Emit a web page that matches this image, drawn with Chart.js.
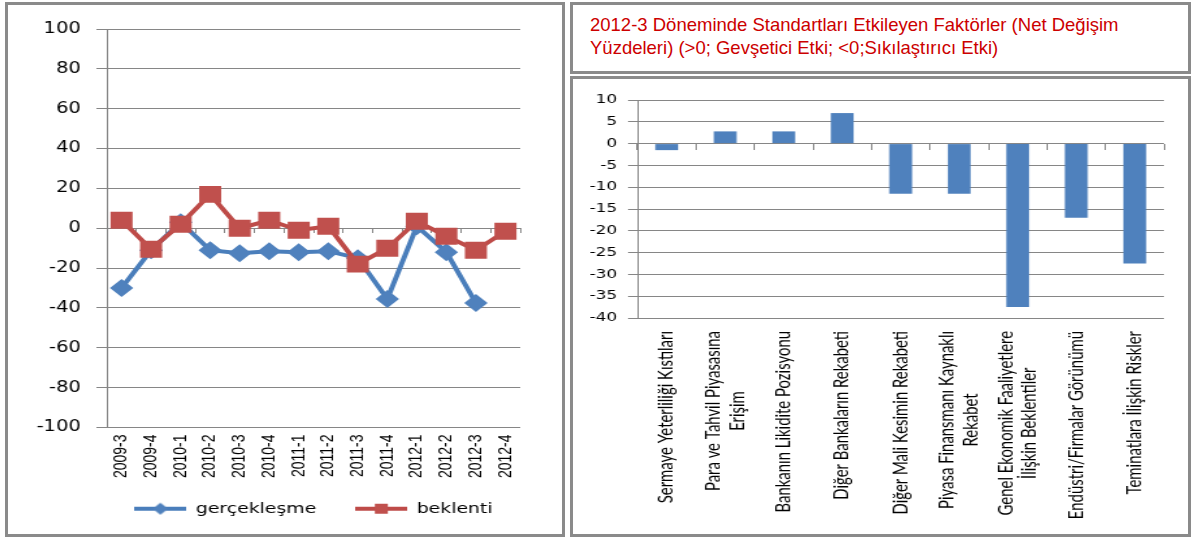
<!DOCTYPE html>
<html>
<head>
<meta charset="utf-8">
<script src="https://cdn.jsdelivr.net/npm/chart.js"></script>
<style>
  body { margin: 0; background: #fff; width: 1196px; height: 538px; overflow: hidden; position: relative; }
  .box { position: absolute; border: 3px solid #8a8a8a; box-sizing: border-box; }
  #leftBox { left: 5px; top: 2px; width: 560px; height: 535px; }
  #titleBox { left: 570px; top: 2px; width: 621px; height: 72px; }
  #rightBox { left: 570px; top: 76px; width: 621px; height: 461px; }
  .wrap { position: absolute; transform-origin: 0 0; }
  /* the source picture is stretched sideways, so the charts are too */
  #leftWrap { left: 8px; top: 5px; width: 426px; height: 529px; transform: scaleX(1.3); }
  #rightWrap { left: 574px; top: 79px; width: 455px; height: 455px; transform: scaleX(1.35); }
  #title { position: absolute; left: 590px; top: 13px; font-family: "Liberation Sans", sans-serif;
           font-size: 18.5px; line-height: 23px; color: #cc0000; }
</style>
</head>
<body>
<div class="box" id="leftBox"></div>
<div class="box" id="titleBox"></div>
<div class="box" id="rightBox"></div>
<div id="title">2012-3 Döneminde Standartları Etkileyen Faktörler (Net Değişim<br>Yüzdeleri) (&gt;0; Gevşetici Etki; &lt;0;Sıkılaştırıcı Etki)</div>
<div class="wrap" id="leftWrap"><canvas id="lineChart"></canvas></div>
<div class="wrap" id="rightWrap"><canvas id="barChart"></canvas></div>

<script>
// Line chart data
const periods = ["2009-3", "2009-4", "2010-1", "2010-2", "2010-3", "2010-4", "2011-1",
                 "2011-2", "2011-3", "2011-4", "2012-1", "2012-2", "2012-3", "2012-4"];
const gerceklesme = [-30, -11, 3, -11, -12.5, -11.5, -12, -11.5, -15, -35.5, 1, -12, -37.5, null];
const beklenti = [4, -10.5, 2, 17, 0, 4, -1, 1, -18, -10, 3.5, -4, -11, -1.5];

// Bar chart data
const factors = [
  "Sermaye Yeterliliği Kıstıları",
  ["Para ve Tahvil Piyasasına", "Erişim"],
  "Bankanın Likidite Pozisyonu",
  "Diğer Bankaların Rekabeti",
  "Diğer Mali Kesimin Rekabeti",
  ["Piyasa Finansmanı Kaynaklı", "Rekabet"],
  ["Genel Ekonomik Faaliyetlere", "İlişkin Beklentiler"],
  "Endüstri/Firmalar Görünümü",
  "Teminatlara İlişkin Riskler"
];
const netChange = [-1.5, 2.8, 2.8, 7, -11.5, -11.5, -37.5, -17, -27.5];

const gridGray = "#868686";
const blueLine = "#4a7ebb", blueMark = "#4f81bd";
const redLine = "#be4b48", redMark = "#c0504d";

Chart.defaults.font.family = "DejaVu Sans";
Chart.defaults.color = "#000";
Chart.defaults.animation = false;

// legend icons: line with marker
function legendIcon(color, markColor, shape) {
  const c = document.createElement("canvas");
  c.width = 40; c.height = 14;
  const g = c.getContext("2d");
  g.strokeStyle = color; g.lineWidth = 4;
  g.beginPath(); g.moveTo(0, 7); g.lineTo(40, 7); g.stroke();
  g.fillStyle = markColor;
  if (shape === "rect") {
    g.fillRect(15, 2, 10, 10);
  } else {
    g.beginPath(); g.moveTo(20, 1); g.lineTo(26, 7); g.lineTo(20, 13); g.lineTo(14, 7); g.closePath(); g.fill();
  }
  return c;
}
const icons = [legendIcon(blueLine, blueMark, "diamond"), legendIcon(redLine, redMark, "rect")];

// Excel style rotated category labels: lines centred on the tick
const centeredLabels = {
  id: "centeredLabels",
  afterDraw(chart) {
    const sc = chart.scales.x, ctx = chart.ctx;
    const lh = 17.8, pad = 13;
    ctx.save();
    ctx.font = "14.9px Lato";
    ctx.fillStyle = "#000";
    ctx.textAlign = "center";
    ctx.textBaseline = "middle";
    chart.data.labels.forEach((lab, i) => {
      const lines = Array.isArray(lab) ? lab : [lab];
      const len = Math.max(...lines.map(t => ctx.measureText(t).width));
      const x = sc.getPixelForTick(i);
      const y = sc.top + pad + len / 2;
      lines.forEach((t, j) => {
        ctx.save();
        ctx.translate(x + (j - (lines.length - 1) / 2) * lh, y);
        ctx.rotate(-Math.PI / 2);
        ctx.fillText(t, 0, 0);
        ctx.restore();
      });
    });
    ctx.restore();
  }
};

new Chart(document.getElementById("lineChart"), {
  type: "line",
  data: {
    labels: periods,
    datasets: [{
      label: "gerçekleşme",
      data: gerceklesme,
      borderColor: blueLine,
      borderWidth: 4,
      pointStyle: "rectRot",
      pointRadius: 9,
      pointBackgroundColor: blueMark,
      pointBorderWidth: 0,
      order: 1
    }, {
      label: "beklenti",
      data: beklenti,
      borderColor: redLine,
      borderWidth: 4,
      pointStyle: "rect",
      pointRadius: 12,
      pointBackgroundColor: redMark,
      pointBorderWidth: 0,
      order: 0
    }]
  },
  options: {
    responsive: true,
    maintainAspectRatio: false,
    devicePixelRatio: 1,
    layout: { padding: { top: 24, right: 32, left: 0, bottom: 8 } },
    scales: {
      y: {
        min: -100, max: 100,
        ticks: { stepSize: 20, padding: 12, font: { size: 15 } },
        grid: { color: gridGray, tickLength: 8 },
        border: { color: gridGray },
        afterFit: s => { s.width = 76; }
      },
      x: {
        offset: true,
        ticks: { maxRotation: 90, minRotation: 90, padding: 7, font: { family: "Liberation Sans", size: 14 } },
        grid: { display: false, drawTicks: false },
        border: { display: false },
        afterFit: s => { s.height = 67; }
      },
      x2: {
        type: "category",
        labels: periods,
        position: { y: 0 },
        offset: true,
        ticks: { display: false },
        grid: { offset: true, drawOnChartArea: false, tickLength: 5, color: gridGray },
        border: { display: false }
      }
    },
    plugins: {
      tooltip: { enabled: false },
      legend: {
        position: "bottom",
        fullSize: false,
        labels: {
          usePointStyle: true,
          pointStyleWidth: 40,
          padding: 7,
          font: { size: 14.5 },
          // trailing spaces widen the gap between the two entries
          generateLabels: chart => chart.data.datasets.map((ds, i) => ({
            text: i === 0 ? ds.label + "     " : ds.label, pointStyle: icons[i], datasetIndex: i,
            fillStyle: "transparent", strokeStyle: "transparent", lineWidth: 0, hidden: false
          }))
        }
      }
    }
  }
});

new Chart(document.getElementById("barChart"), {
  type: "bar",
  data: {
    labels: factors,
    datasets: [{
      data: netChange,
      backgroundColor: blueMark,
      barPercentage: 0.39,
      categoryPercentage: 1
    }]
  },
  options: {
    responsive: true,
    maintainAspectRatio: false,
    devicePixelRatio: 1,
    layout: { padding: { top: 21, right: 18, left: 0, bottom: 0 } },
    scales: {
      y: {
        min: -40, max: 10,
        ticks: { stepSize: 5, padding: 8, font: { size: 12.5 } },
        grid: { color: gridGray, tickLength: 7 },
        border: { color: gridGray },
        afterFit: s => { s.width = 47; }
      },
      x: {
        ticks: { display: false },
        grid: { display: false, drawTicks: false },
        border: { display: false },
        afterFit: s => { s.height = 216; }
      },
      x2: {
        type: "category",
        labels: factors,
        position: { y: 0 },
        offset: true,
        ticks: { display: false },
        grid: { offset: true, drawOnChartArea: false, tickLength: 6, color: gridGray },
        border: { display: false }
      }
    },
    plugins: {
      legend: { display: false },
      tooltip: { enabled: false }
    }
  },
  plugins: [centeredLabels]
});
</script>
</body>
</html>
